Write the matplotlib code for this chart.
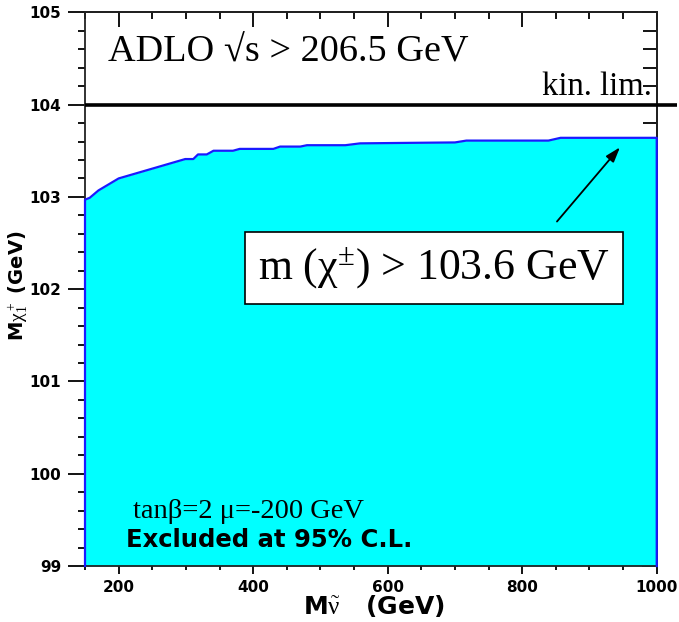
import numpy as np
import matplotlib.pyplot as plt

plt.rcParams["mathtext.fontset"] = "custom"
plt.rcParams["mathtext.rm"] = "Liberation Serif"
plt.rcParams["mathtext.it"] = "Liberation Serif"
plt.rcParams["mathtext.bf"] = "Liberation Serif"

# exclusion contour
m_snu = [150, 157, 170, 200, 299, 311, 318, 331, 341, 370, 380, 430, 440,
         470, 480, 537, 559, 626, 700, 717, 839, 857, 1000]
m_chi = [102.97, 102.99, 103.07, 103.20, 103.41, 103.41, 103.46, 103.46,
         103.50, 103.50, 103.52, 103.52, 103.545, 103.545, 103.56, 103.56,
         103.58, 103.585, 103.59, 103.61, 103.61, 103.64, 103.64]

kin_lim = 104.0
x_range = (150, 1000)
y_range = (99, 105)
x_major = [200, 400, 600, 800, 1000]
y_major = [99, 100, 101, 102, 103, 104, 105]

fig = plt.figure(figsize=(6.79, 6.22), dpi=100)
ax = fig.add_axes([0.1252, 0.0900, 0.9672 - 0.1252, 0.9802 - 0.0900])

ax.fill_between(m_snu, y_range[0], m_chi, color="#00ffff", lw=0, zorder=1)
ax.plot([m_snu[0]] + m_snu + [m_snu[-1]], [y_range[0]] + m_chi + [y_range[0]],
        color="#1a1aff", lw=1.6, zorder=3, clip_on=False)

ax.plot([x_range[0], 1030], [kin_lim, kin_lim], color="black", lw=2.6,
        clip_on=False, zorder=4, solid_capstyle="butt")

ax.set_xlim(*x_range)
ax.set_ylim(*y_range)

for s in ax.spines.values():
    s.set_linewidth(1.3)
    s.set_color("#222222")

ax.set_xticks(x_major)
ax.set_xticks(np.arange(150, 1001, 50), minor=True)
ax.set_yticks(y_major)
ax.set_yticks(np.arange(99, 105.01, 0.2), minor=True)
ax.tick_params(axis="x", which="major", direction="out", length=6, width=1.3, pad=4)
ax.tick_params(axis="x", which="minor", direction="out", length=3, width=1.3)
ax.tick_params(axis="y", which="major", direction="out", length=12, width=1.3, pad=5)
ax.tick_params(axis="y", which="minor", direction="out", length=5, width=1.3)
for lab in ax.get_xticklabels() + ax.get_yticklabels():
    lab.set_fontweight("bold")
    lab.set_fontsize(11)

top = ax.secondary_xaxis("top")
top.set_xticks(x_major)
top.set_xticks(np.arange(150, 1001, 50), minor=True)
top.tick_params(which="major", direction="in", length=11, width=1.3, labeltop=False)
top.tick_params(which="minor", direction="in", length=5, width=1.3)
top.spines["top"].set_linewidth(1.3)

right = ax.secondary_yaxis("right")
right.set_yticks(y_major)
right.set_yticks(np.arange(99, 105.01, 0.2), minor=True)
right.tick_params(which="major", direction="in", length=11, width=1.3, labelright=False)
right.tick_params(which="minor", direction="in", length=10, width=1.3)
right.spines["right"].set_linewidth(1.3)

ax.text(184, 104.57, "ADLO \u221as > 206.5 GeV", family="Liberation Serif",
        fontsize=27.5, va="center", ha="left")
ax.text(993, 104.03, "kin. lim.", family="Liberation Serif", fontsize=23.5,
        va="bottom", ha="right")

ax.text(669, 102.23, r"m (χ$^{\pm}$) > 103.6 GeV", family="Liberation Serif",
        fontsize=31.5, va="center", ha="center", zorder=5,
        bbox=dict(boxstyle="square,pad=0.3", fc="white", ec="black", lw=1.2))

ax.annotate("", xy=(948, 103.56), xytext=(849, 102.71),
            arrowprops=dict(arrowstyle="-|>,head_length=0.9,head_width=0.3",
                            color="black", lw=1.3), zorder=5)

ax.text(221, 99.52, "tanβ=2 μ=-200 GeV", family="Liberation Serif",
        fontsize=20.5, va="baseline", ha="left")
ax.text(211, 99.21, "Excluded at 95% C.L.", family="DejaVu Sans",
        fontweight="bold", fontsize=17.5, va="baseline", ha="left")

fig.text(0.550, 0.025, r"M$\tilde{\nu}$   (GeV)", fontweight="bold",
         fontsize=18, ha="center", va="center")
fig.text(0.026, 0.54, r"M$\chi^+_1$ (GeV)", fontweight="bold",
         fontsize=14, ha="center", va="center", rotation=90)

fig.savefig("out.png", dpi=100)
